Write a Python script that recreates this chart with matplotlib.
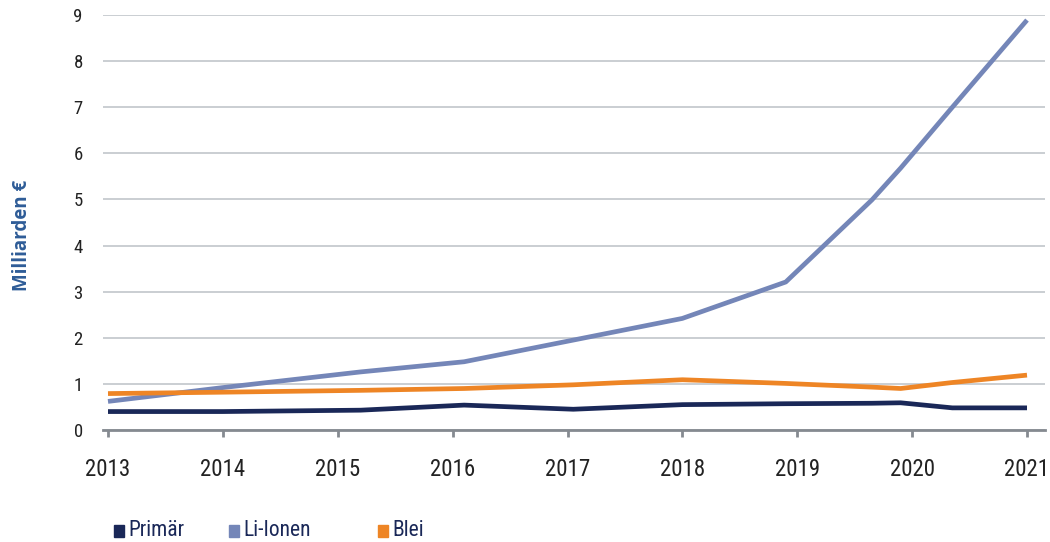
import matplotlib
matplotlib.use("Agg")
import matplotlib.pyplot as plt
from matplotlib.patches import Rectangle
from matplotlib import font_manager
from matplotlib.font_manager import FontProperties

# ---- data ----
x_pos = [2013, 2014, 2015.2, 2016.1, 2017.05, 2018.0, 2018.9, 2019.65, 2019.9, 2020.35, 2021]
primaer = [0.40, 0.40, 0.43, 0.54, 0.45, 0.55, 0.57, 0.58, 0.59, 0.48, 0.48]
li_ionen = [0.62, 0.92, 1.26, 1.48, 1.95, 2.42, 3.21, 4.99, 5.68, 7.00, 8.89]
blei = [0.79, 0.82, 0.86, 0.90, 0.98, 1.09, 1.01, 0.93, 0.90, 1.03, 1.19]
years = [2013, 2014, 2015, 2016, 2017, 2018, 2019, 2020, 2021]
y_ticks = [0, 1, 2, 3, 4, 5, 6, 7, 8, 9]
series_names = ["Primär", "Li-Ionen", "Blei"]
colors = ["#1a2858", "#7486b8", "#ee8525"]

# find a condensed / narrow font if one is installed
cand = None
prefs = ["condensed", "narrow"]
for f in font_manager.fontManager.ttflist:
    fn = (f.fname or "").lower()
    nm = f.name.lower()
    if f.weight in (400, "normal", "regular") and f.style == "normal":
        if any(p in fn or p in nm for p in prefs) or str(f.stretch) in ("condensed", "semi-condensed", "575", "625", "750"):
            if "bold" in fn or "oblique" in fn or "italic" in fn or "light" in fn:
                continue
            cand = f.fname
            if "roboto" in fn or "liberation" in fn:
                break
if cand:
    def fp(size):
        return FontProperties(fname=cand, size=size)
else:
    def fp(size):
        return FontProperties(family="DejaVu Sans", size=size * 0.85)

fig = plt.figure(figsize=(10.5, 5.42), dpi=100)
ax = fig.add_axes([103/1050, 1-430/542, (1045-103)/1050, (430-15)/542])

for vals, c in zip([li_ionen, blei, primaer], [colors[1], colors[2], colors[0]]):
    ax.plot(x_pos, vals, color=c, lw=3.4, solid_capstyle="butt", solid_joinstyle="round", zorder=3)

ax.set_xlim(2013 - 5/114.9, 2021 + 18/114.9)
ax.set_ylim(0, 9)
ax.set_yticks(y_ticks)
ax.set_xticks(years)
ax.set_xticklabels([str(y) for y in years], fontproperties=fp(16.5), color="#222222")
ax.set_yticklabels([str(v) for v in y_ticks], fontproperties=fp(13.5), color="#222222")
ax.yaxis.grid(True, color="#bcc1c6", lw=1.1)
ax.set_axisbelow(True)
for s in ["top", "right", "left"]:
    ax.spines[s].set_visible(False)
ax.spines["bottom"].set_color("#858a90")
ax.spines["bottom"].set_linewidth(2)
ax.tick_params(axis="y", length=0, pad=14.5)
ax.tick_params(axis="x", direction="out", length=5, width=2, color="#858a90", pad=15.5)

fig.text(22/1050, 1-235/542, "Milliarden €", rotation=90, ha="center", va="center",
         fontsize=13.5, fontweight="bold", color="#2e5c97", family="Open Sans")

# legend
leg_x = [114, 229, 378]
for name, c, lx in zip(series_names, colors, leg_x):
    fig.patches.append(Rectangle((lx/1050, 1-537/542), 10/1050, 12/542, transform=fig.transFigure,
                                 color=c, figure=fig))
    fig.text((lx+14)/1050, 1-531/542, name, ha="left", va="center",
             fontproperties=fp(15.5), color="#1a2858")

fig.savefig("out.png", dpi=100)
